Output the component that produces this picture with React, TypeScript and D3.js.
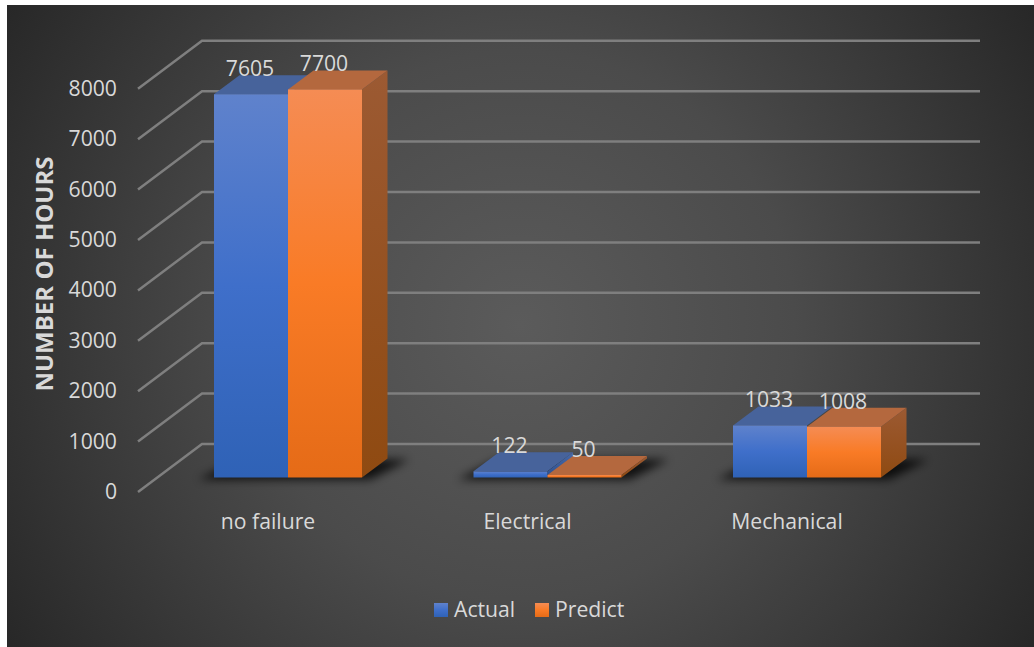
import React from "react";
import * as d3 from "d3";

// Hours per failure class
const categories = ["no failure", "Electrical", "Mechanical"];
const actualValues = [7605, 122, 1033];
const predictValues = [7700, 50, 1008];
const yTicks = [0, 1000, 2000, 3000, 4000, 5000, 6000, 7000, 8000];

const W = 1034;
const H = 647;
// Oblique offset of the rear plane relative to the front plane
const DX = 25.5;
const DY = -19;
const BASE_Y = 477.5;
const BAR_W = 74;

const y = d3.scaleLinear().domain([0, 8000]).range([BASE_Y, BASE_Y - 403.2]);
const groupCenter = d3.scalePoint<string>().domain(categories).range([288, 807]);

const palette = {
  Actual: {
    front: ["#5f82cc", "#3f6fca", "#2f62b6"],
    top: "#47639b",
    side: ["#4a6aa8", "#2a4f8e"],
  },
  Predict: {
    front: ["#f58c54", "#f97b26", "#e56b17"],
    top: "#b4683e",
    side: ["#9c5a33", "#8f4a11"],
  },
};

const FONT = "'Open Sans', sans-serif";
const TEXT = "#d9d9d9";
const LABEL_SIZE = 21.2;

const pts = (list: number[][]) => list.map((p) => p.join(",")).join(" ");

function Bar({ x, value, name, showSide }: { x: number; value: number; name: "Actual" | "Predict"; showSide: boolean }) {
  const top = y(value);
  const right = x + BAR_W;
  const c = palette[name];
  return (
    <g>
      {showSide && (
        <polygon
          points={pts([[right, top], [right + DX, top + DY], [right + DX, BASE_Y + DY], [right, BASE_Y]])}
          fill={`url(#side${name}-${Math.round(x)})`}
        />
      )}
      <polygon
        points={pts([[x, top], [x + DX, top + DY], [right + DX, top + DY], [right, top]])}
        fill={c.top}
      />
      <rect x={x} y={top} width={BAR_W} height={BASE_Y - top} fill={`url(#front${name}-${Math.round(x)})`} />
    </g>
  );
}

export default function App() {
  const legendItems: { name: "Actual" | "Predict"; swatch: number }[] = [
    { name: "Actual", swatch: 434 },
    { name: "Predict", swatch: 535 },
  ];

  const bars = categories.flatMap((cat, i) => {
    const cx = groupCenter(cat)!;
    return [
      { key: `${cat}-a`, x: cx - BAR_W, value: actualValues[i], name: "Actual" as const },
      { key: `${cat}-p`, x: cx, value: predictValues[i], name: "Predict" as const },
    ];
  });

  return (
    <svg
      width={W}
      height={H}
      viewBox={`0 0 ${W} ${H}`}
      style={{ position: "absolute", left: 0, top: 0, display: "block" }}
    >
      <defs>
        <radialGradient id="bg" gradientUnits="userSpaceOnUse" cx={520} cy={325} r={610}>
          <stop offset="0" stopColor="#5b5b5b" />
          <stop offset="0.45" stopColor="#4b4b4b" />
          <stop offset="1" stopColor="#272727" />
        </radialGradient>
        <filter id="soft" x="-30%" y="-150%" width="160%" height="400%">
          <feGaussianBlur stdDeviation="5" />
        </filter>
        <linearGradient id="swA" x1="0" y1="0" x2="0" y2="1">
          {palette.Actual.front.map((col, i) => <stop key={i} offset={i / 2} stopColor={col} />)}
        </linearGradient>
        <linearGradient id="swP" x1="0" y1="0" x2="0" y2="1">
          {palette.Predict.front.map((col, i) => <stop key={i} offset={i / 2} stopColor={col} />)}
        </linearGradient>
        {bars.map((b) => (
          <React.Fragment key={b.key}>
            <linearGradient id={`front${b.name}-${Math.round(b.x)}`} x1="0" y1="0" x2="0" y2="1">
              {palette[b.name].front.map((col, i) => <stop key={i} offset={i / 2} stopColor={col} />)}
            </linearGradient>
            <linearGradient id={`side${b.name}-${Math.round(b.x)}`} x1="0" y1="0" x2="0" y2="1">
              {palette[b.name].side.map((col, i) => <stop key={i} offset={i} stopColor={col} />)}
            </linearGradient>
          </React.Fragment>
        ))}
      </defs>

      <rect x={7} y={5} width={W - 7} height={H - 5} fill="url(#bg)" />

      {/* Wall and floor gridlines */}
      <g fill="none" stroke="#7f7f7f" strokeWidth={2.5}>
        {yTicks.map((t) => (
          <polyline
            key={t}
            points={pts([
              [138, y(t) + 14.5],
              [202, y(t) + 14.5 - 48],
              [980, y(t) + 14.5 - 48],
            ])}
          />
        ))}
      </g>

      {/* Floor shadows */}
      {categories.map((cat) => {
        const cx = groupCenter(cat)!;
        return (
          <polygon
            key={cat}
            filter="url(#soft)"
            fill="#000"
            fillOpacity={0.8}
            points={pts([
              [cx - BAR_W - 16, BASE_Y + 2],
              [cx + BAR_W + 8, BASE_Y + 2],
              [cx + BAR_W + DX + 22, BASE_Y + DY + 1],
              [cx - BAR_W + DX, BASE_Y + DY + 1],
            ])}
          />
        );
      })}

      {/* Back-to-front so the Predict bar overlaps the Actual bar's side */}
      {bars.map((b) => (
        <Bar key={b.key} x={b.x} value={b.value} name={b.name} showSide={b.name === "Predict" || b.value < 200} />
      ))}

      {/* Value labels */}
      <g fontFamily={FONT} fontSize={LABEL_SIZE} fill={TEXT} textAnchor="middle">
        {bars.map((b) => (
          <text key={b.key} x={b.x + BAR_W / 2 - 1} y={y(b.value) - 18}>
            {d3.format("d")(b.value)}
          </text>
        ))}
      </g>

      {/* Value axis */}
      <g fontFamily={FONT} fontSize={LABEL_SIZE} fill={TEXT} textAnchor="end">
        {yTicks.map((t) => (
          <text key={t} x={117} y={y(t) + 21.5}>
            {t}
          </text>
        ))}
      </g>
      <text
        transform="translate(53,274) rotate(-90)"
        fontFamily={FONT}
        fontSize={24}
        fontWeight={700}
        fill={TEXT}
        textAnchor="middle"
      >
        NUMBER OF HOURS
      </text>

      {/* Category axis */}
      <g fontFamily={FONT} fontSize={LABEL_SIZE} fill={TEXT} textAnchor="middle">
        {categories.map((cat) => (
          <text key={cat} x={groupCenter(cat)! - 20} y={529}>
            {cat}
          </text>
        ))}
      </g>

      {/* Legend */}
      <g fontFamily={FONT} fontSize={LABEL_SIZE} fill={TEXT}>
        {legendItems.map((item) => (
          <g key={item.name}>
            <rect
              x={item.swatch}
              y={603}
              width={14}
              height={14}
              fill={item.name === "Actual" ? "url(#swA)" : "url(#swP)"}
            />
            <text x={item.swatch + 20} y={617}>
              {item.name}
            </text>
          </g>
        ))}
      </g>
    </svg>
  );
}
